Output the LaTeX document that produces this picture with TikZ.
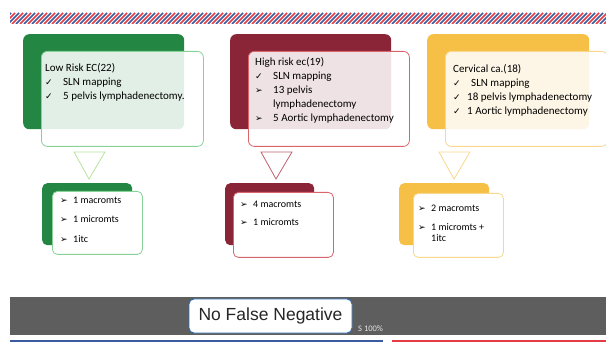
\documentclass[tikz,border=0pt]{standalone}
\usepackage{fontspec}
\setmainfont{Carlito}
\newfontfamily\symfont{DejaVu Sans}
\newfontfamily\headfont{Liberation Sans}

\definecolor{lowgreen}{RGB}{35,134,67}
\definecolor{lowline}{RGB}{136,209,151}
\definecolor{lowtri}{RGB}{185,227,160}
\definecolor{highred}{RGB}{138,37,56}
\definecolor{highline}{RGB}{216,100,108}
\definecolor{hightri}{RGB}{192,98,110}
\definecolor{cervyellow}{RGB}{246,191,69}
\definecolor{cervline}{RGB}{249,215,140}
\definecolor{bandgray}{RGB}{94,94,94}
\definecolor{boxblue}{RGB}{46,109,180}
\definecolor{stripeblue}{RGB}{59,91,160}
\definecolor{stripered}{RGB}{229,59,68}

\newcommand{\chk}{\makebox[18pt][l]{{\symfont\small ✓}}}
\newcommand{\chks}{\makebox[14pt][l]{{\symfont\small ✓}}}
\newcommand{\arr}{\makebox[18pt][l]{{\symfont\small ➢}}}
\newcommand{\arrs}{\makebox[13pt][l]{{\symfont\small ➢}}}

\usetikzlibrary{positioning}

\begin{document}
\begin{tikzpicture}[x=1pt,y=-1pt]

\tikzstyle{backbox} = [anchor=north west, rounded corners=6pt, inner sep=0]
\tikzstyle{frontbox} = [anchor=north west, rounded corners=6pt, line width=0.8pt, fill=white, fill opacity=0.87, inner sep=0]
\tikzstyle{lowerfront} = [anchor=north west, rounded corners=5pt, line width=0.8pt, fill=white, inner sep=0]
\tikzstyle{uppertext} = [anchor=base west, align=left, inner sep=0, font=\fontsize{11}{14}\selectfont, text=black]
\tikzstyle{lowertext} = [anchor=base west, align=left, inner sep=0, font=\fontsize{10}{11}\selectfont, text=black]
\tikzstyle{tri_arrow} = [line width=0.8pt, fill=white]

\useasboundingbox (0,0) rectangle (606,342);

% stripes on top
\begin{scope}
\clip (10,13) rectangle (606,24);
\foreach \i in {0,8,...,616} {
  \draw[stripeblue, line width=1.7pt] (\i,24) -- ++(11,-11);
  \draw[stripered, line width=1.7pt] (\i+4,24) -- ++(11,-11);
}
\end{scope}

% low risk (text nodes sit on the baseline of their last line)
\node [backbox, fill=lowgreen, minimum width=161pt, minimum height=95pt] (lowback) at (23,34) {};
\node [frontbox, draw=lowline, minimum width=162pt, minimum height=95pt] (lowfront) at (41,51) {};
\node [uppertext] (lowtext) at (45,100) {Low Risk EC(22)\\ \chk SLN mapping\\ \chk 5 pelvis lymphadenectomy.};

% high risk
\node [backbox, fill=highred, minimum width=161pt, minimum height=95pt] (highback) at (230,34) {};
\node [frontbox, draw=highline, minimum width=161pt, minimum height=95pt] (highfront) at (248,51) {};
\node [uppertext] (hightext) at (255,122) {High risk ec(19)\\ \chk SLN mapping\\ \arr 13 pelvis\\ \hspace*{18pt}lymphadenectomy\\ \arr 5 Aortic lymphadenectomy};

% cervical
\node [backbox, fill=cervyellow, minimum width=162pt, minimum height=95pt] (cervback) at (427,34) {};
\node [frontbox, draw=cervline, minimum width=162pt, minimum height=95pt] (cervfront) at (445,51) {};
\node [uppertext] (cervtext) at (453,115) {Cervical ca.(18)\\ \chks\hspace*{4pt}SLN mapping\\ \chks 18 pelvis lymphadenectomy\\ \chks 1 Aortic lymphadenectomy};

% triangles
\draw [tri_arrow, draw=lowtri] (74,152) -- (105,152) -- (89,179) -- cycle;
\draw [tri_arrow, draw=hightri] (261,152) -- (292,152) -- (276,179) -- cycle;
\draw [tri_arrow, draw=cervline] (439,152) -- (470,152) -- (454,179) -- cycle;

% results
\node [backbox, rounded corners=5pt, fill=lowgreen, minimum width=90pt, minimum height=62pt] (lowresback) at (42,183) {};
\node [lowerfront, draw=lowline, minimum width=90pt, minimum height=63pt] (lowresfront) at (52,191) {};
\node [lowertext] (lowrestext) at (60,242.5) {\arrs 1 macromts\\[8.5pt] \arrs 1 micromts\\[9pt] \arrs 1itc};

\node [backbox, rounded corners=5pt, fill=highred, minimum width=89pt, minimum height=62pt] (highresback) at (225,183) {};
\node [lowerfront, draw=highline, minimum width=100pt, minimum height=65pt] (highresfront) at (233,192) {};
\node [lowertext] (highrestext) at (240,225.5) {\arrs 4 macromts\\[7pt] \arrs 1 micromts};

\node [backbox, rounded corners=5pt, fill=cervyellow, minimum width=90pt, minimum height=62pt] (cervresback) at (399,183) {};
\node [lowerfront, draw=cervline, minimum width=90pt, minimum height=64pt] (cervresfront) at (413,193) {};
\node [lowertext] (cervrestext) at (418,241.5) {\arrs 2 macromts\\[8pt] \arrs 1 micromts +\\ \hspace*{13pt}1itc};

% bottom band
\node [anchor=north west, fill=bandgray, minimum width=596pt, minimum height=38pt, inner sep=0] (band) at (10,297) {};
\node [fill=white, draw=boxblue, line width=0.9pt, rounded corners=5pt, minimum width=163pt, minimum height=34pt, inner sep=0, font=\headfont\fontsize{17.5}{20}\selectfont, text=black!85] (negbox) at (270.5,316) {No False Negative};
\node [anchor=base west, inner sep=0, text=white!90!black, font=\fontsize{8.5}{10}\selectfont] (sens) at (358,331) {S 100\%};
\node [anchor=north west, fill=stripeblue, minimum width=373pt, minimum height=2.5pt, inner sep=0] (bluebar) at (10,339.5) {};
\node [anchor=north west, fill=stripered, minimum width=214pt, minimum height=2.5pt, inner sep=0] (redbar) at (392,339.5) {};

\end{tikzpicture}
\end{document}
